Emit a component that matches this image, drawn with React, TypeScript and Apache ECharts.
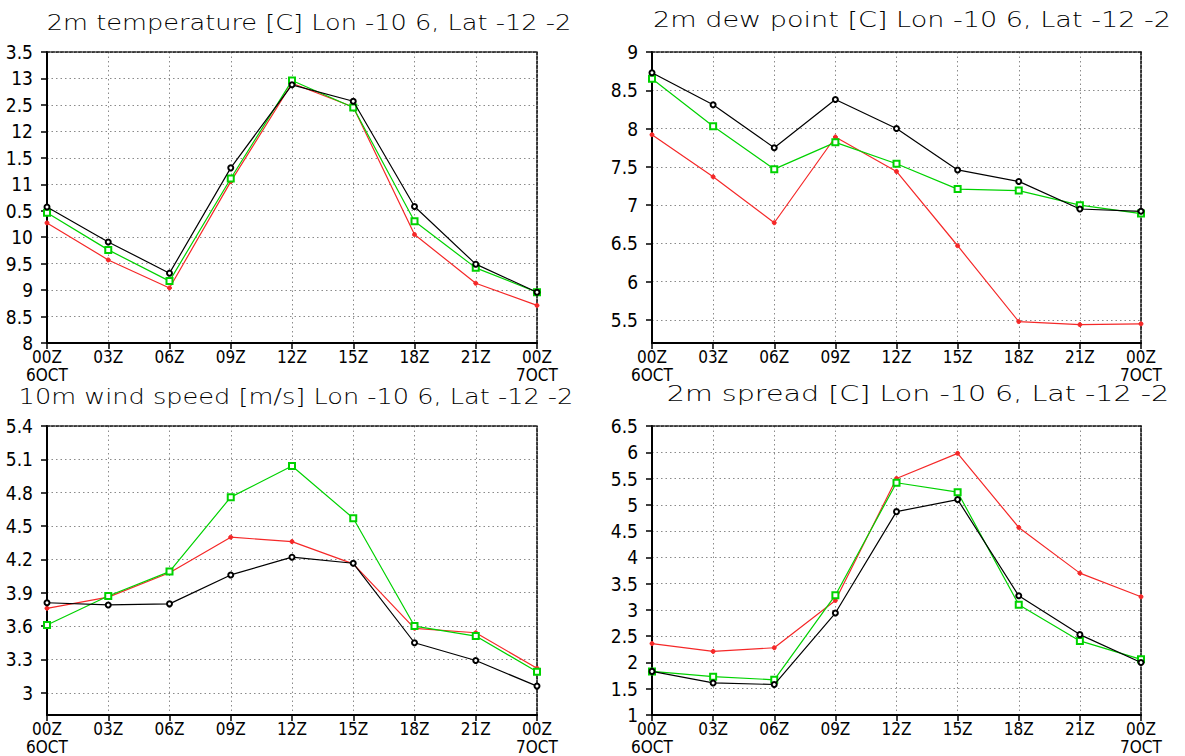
import React, { useEffect, useRef } from "react";
import * as echarts from "echarts";

// ---- categories ----
const hours = ["00Z\n6OCT", "03Z", "06Z", "09Z", "12Z", "15Z", "18Z", "21Z", "00Z\n7OCT"];

// ---- panel 1: 2m temperature ----
const tempBlack = [10.57, 9.91, 9.32, 11.31, 12.88, 12.57, 10.58, 9.49, 8.96];
const tempGreen = [10.46, 9.76, 9.17, 11.11, 12.96, 12.45, 10.3, 9.42, 8.96];
const tempRed = [10.27, 9.57, 9.04, 11.05, 12.91, 12.46, 10.05, 9.13, 8.71];
const tempTicks = [8, 8.5, 9, 9.5, 10, 10.5, 11, 11.5, 12, 12.5, 13, 13.5];
const tempTickLabels = ["8", "8.5", "9", "9.5", "10", "0.5", "11", "1.5", "12", "2.5", "13", "3.5"];

// ---- panel 2: 2m dew point ----
const dewBlack = [8.73, 8.31, 7.75, 8.38, 8.0, 7.46, 7.31, 6.95, 6.92];
const dewGreen = [8.65, 8.03, 7.47, 7.82, 7.54, 7.21, 7.19, 7.0, 6.89];
const dewRed = [7.92, 7.37, 6.77, 7.89, 7.44, 6.47, 5.48, 5.44, 5.45];
const dewTicks = [5.5, 6, 6.5, 7, 7.5, 8, 8.5, 9];

// ---- panel 3: 10m wind speed ----
const windBlack = [3.81, 3.79, 3.8, 4.06, 4.22, 4.165, 3.45, 3.29, 3.06];
const windGreen = [3.61, 3.87, 4.09, 4.76, 5.04, 4.57, 3.6, 3.51, 3.19];
const windRed = [3.76, 3.86, 4.08, 4.4, 4.36, 4.16, 3.58, 3.54, 3.22];
const windTicks = [3, 3.3, 3.6, 3.9, 4.2, 4.5, 4.8, 5.1, 5.4];

// ---- panel 4: 2m spread ----
const spreadBlack = [1.83, 1.61, 1.58, 2.94, 4.87, 5.1, 3.27, 2.53, 2.0];
const spreadGreen = [1.83, 1.73, 1.67, 3.28, 5.42, 5.24, 3.1, 2.41, 2.06];
const spreadRed = [2.36, 2.21, 2.28, 3.18, 5.5, 5.98, 4.57, 3.7, 3.25];
const spreadTicks = [1, 1.5, 2, 2.5, 3, 3.5, 4, 4.5, 5, 5.5, 6, 6.5];

const titles = [
  "2m temperature [C] Lon -10 6, Lat -12 -2",
  "2m dew point [C] Lon -10 6, Lat -12 -2",
  "10m wind speed [m/s] Lon -10 6, Lat -12 -2",
  "2m spread [C] Lon -10 6, Lat -12 -2",
];

const BLACK = "#000000";
const GREEN = "#00d200";
const RED = "#f52828";
const LABEL_FONT = "'Liberation Sans Narrow', 'DejaVu Sans Condensed', 'Liberation Sans', sans-serif";

const grids = [
  { left: 47, top: 52, width: 490, height: 291 },
  { left: 652, top: 52, width: 489, height: 291 },
  { left: 47, top: 426, width: 490, height: 290 },
  { left: 652, top: 426, width: 489, height: 290 },
];

const titlePos = [
  { x: 309, y: 23, sx: 1.22 },
  { x: 912, y: 20, sx: 1.29 },
  { x: 296, y: 397, sx: 1.22 },
  { x: 918, y: 394, sx: 1.36 },
];

const panels = [
  { min: 8, max: 13.5, ticks: tempTicks, labels: tempTickLabels, data: [tempRed, tempGreen, tempBlack] },
  { min: 5.2, max: 9, ticks: dewTicks, labels: null, data: [dewRed, dewGreen, dewBlack] },
  { min: 2.8, max: 5.4, ticks: windTicks, labels: null, data: [windRed, windGreen, windBlack] },
  { min: 1, max: 6.5, ticks: spreadTicks, labels: null, data: [spreadRed, spreadGreen, spreadBlack] },
];

function buildOption() {
  const xAxis: any[] = [];
  const yAxis: any[] = [];
  const series: any[] = [];
  const gridLine = { color: "#8a8a8a", width: 1, type: [1.5, 3] };
  const borderDash = { color: "#111", width: 1.6, type: [3, 1.5] };

  panels.forEach((p, i) => {
    xAxis.push({
      type: "category",
      gridIndex: i,
      data: hours,
      boundaryGap: false,
      axisLine: { show: true, lineStyle: { color: BLACK, width: 2 } },
      axisTick: { show: true, length: 6, lineStyle: { color: BLACK, width: 1.5 } },
      axisLabel: {
        interval: 0,
        margin: 5,
        color: BLACK,
        fontFamily: LABEL_FONT,
        fontSize: 17,
        lineHeight: 18,
      },
      splitLine: { show: true, lineStyle: gridLine },
    });
    xAxis.push({
      type: "category",
      gridIndex: i,
      data: hours,
      boundaryGap: false,
      position: "top",
      axisLine: { show: true, lineStyle: borderDash },
      axisTick: { show: false },
      axisLabel: { show: false },
      splitLine: { show: false },
    });
    const labels = p.labels;
    const ticks = p.ticks;
    yAxis.push({
      type: "value",
      gridIndex: i,
      min: p.min,
      max: p.max,
      axisLine: { show: true, lineStyle: { color: BLACK, width: 2 } },
      axisTick: { show: true, length: 6, customValues: ticks, lineStyle: { color: BLACK, width: 1.5 } },
      axisLabel: {
        customValues: ticks,
        margin: 14,
        color: BLACK,
        fontFamily: LABEL_FONT,
        fontSize: 19,
        formatter: (v: number) => {
          if (labels) {
            const idx = ticks.findIndex((t) => Math.abs(t - v) < 1e-6);
            if (idx >= 0) return labels[idx];
          }
          return String(Math.round(v * 10) / 10);
        },
      },
      splitLine: { show: true, lineStyle: gridLine },
    });
    yAxis.push({
      type: "value",
      gridIndex: i,
      min: p.min,
      max: p.max,
      position: "right",
      axisLine: { show: true, lineStyle: borderDash },
      axisTick: { show: false },
      axisLabel: { show: false },
      splitLine: { show: false },
    });

    const styles = [
      { color: RED, symbol: "circle", size: 4 },
      { color: GREEN, symbol: "emptyRect", size: 6 },
      { color: BLACK, symbol: "emptyCircle", size: 5 },
    ];
    p.data.forEach((d, k) => {
      series.push({
        type: "line",
        xAxisIndex: i * 2,
        yAxisIndex: i * 2,
        data: d,
        symbol: styles[k].symbol,
        symbolSize: styles[k].size,
        showAllSymbol: true,
        lineStyle: { color: styles[k].color, width: 1.2 },
        itemStyle: { color: styles[k].color, borderColor: styles[k].color, borderWidth: 1 },
        emphasis: { disabled: true },
        z: 3 + k,
      });
    });
  });

  const graphic = titles.map((t, i) => ({
    type: "text",
    x: titlePos[i].x,
    y: titlePos[i].y,
    scaleX: titlePos[i].sx,
    style: {
      text: t,
      align: "center",
      verticalAlign: "middle",
      fill: BLACK,
      fontFamily: "'DejaVu Sans', sans-serif",
      fontWeight: 200,
      fontSize: 21,
    },
  }));

  return {
    animation: false,
    backgroundColor: "#ffffff",
    grid: grids,
    xAxis,
    yAxis,
    series,
    graphic,
  };
}

export default function App() {
  const ref = useRef<HTMLDivElement>(null);
  useEffect(() => {
    if (!ref.current) return;
    const chart = echarts.init(ref.current, undefined, { renderer: "svg" });
    chart.setOption(buildOption() as any);
    return () => chart.dispose();
  }, []);
  return (
    <div
      ref={ref}
      style={{ position: "absolute", left: 0, top: 0, width: 1185, height: 756, background: "#fff" }}
    />
  );
}
